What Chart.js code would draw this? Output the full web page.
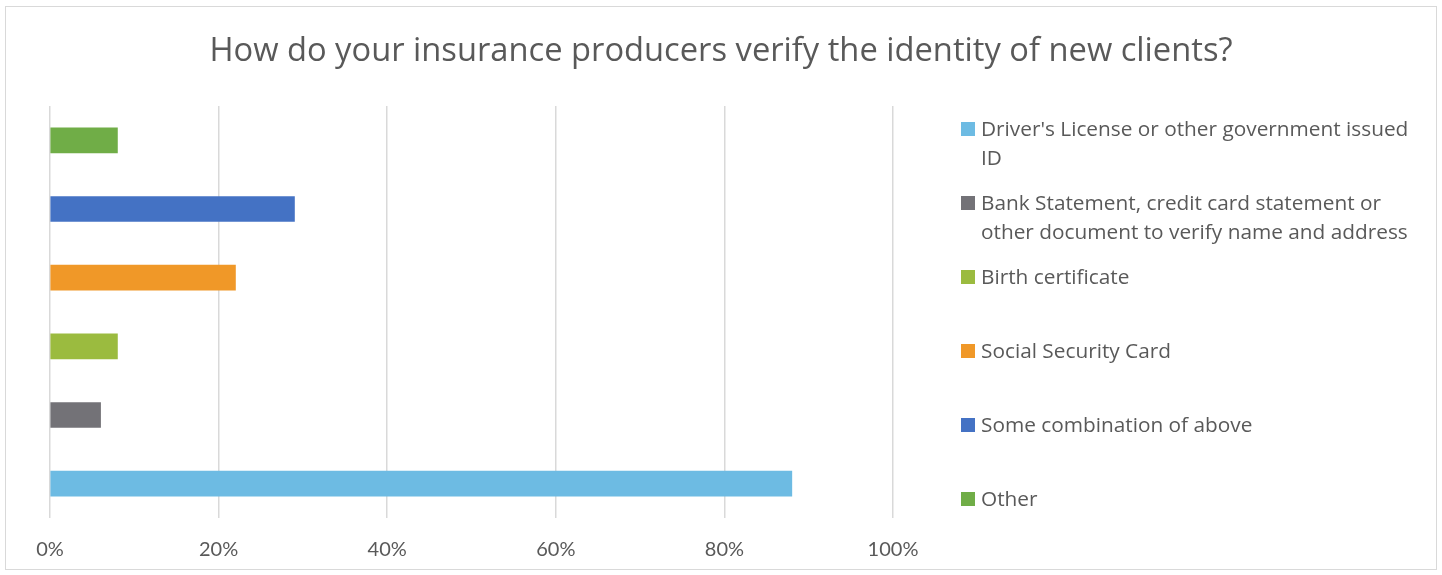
<!DOCTYPE html>
<html>
<head>
<meta charset="utf-8">
<script src="https://cdn.jsdelivr.net/npm/chart.js@4"></script>
<style>
  body { margin: 0; background: #fff; font-family: "Open Sans", Lato, sans-serif; }
  #frame { position: absolute; left: 5px; top: 6px; width: 1430px; height: 562px; border: 1.5px solid #D9D9D9; }
  #wrap { position: absolute; left: 0; top: 0; width: 1442px; height: 575px; }
  #title { position: absolute; left: 0; top: 26px; width: 1442px; text-align: center; font-size: 32.7px; color: #595959; }
  #legend { position: absolute; left: 961px; top: 0; }
  .item { position: absolute; left: 0; width: 475px; font-size: 20.8px; line-height: 29px; color: #595959; padding-left: 20px; white-space: nowrap; }
  .item span.sw { position: absolute; left: 0; top: 8px; width: 14px; height: 14px; }
</style>
</head>
<body>
<div id="frame"></div>
<div id="wrap"><canvas id="chart" width="1442" height="575"></canvas></div>
<div id="title">How do your insurance producers verify the identity of new clients?</div>
<div id="legend"></div>
<script>
// categories listed bottom to top on the chart, top to bottom in the legend
const categories = [
  "Driver's License or other government issued ID",
  'Bank Statement, credit card statement or other document to verify name and address',
  'Birth certificate',
  'Social Security Card',
  'Some combination of above',
  'Other'
];
const legendLines = [
  ["Driver's License or other government issued", 'ID'],
  ['Bank Statement, credit card statement or', 'other document to verify name and address'],
  ['Birth certificate'],
  ['Social Security Card'],
  ['Some combination of above'],
  ['Other']
];
const values = [88, 6, 8, 22, 29, 8];
const colors = ['#6DBBE3', '#737277', '#9BBB3F', '#F09828', '#4472C4', '#70AD47'];
const xTicks = [0, 20, 40, 60, 80, 100];

// html legend
const legendTops = [114, 188, 262, 336, 410, 484];
const legendEl = document.getElementById('legend');
legendEl.innerHTML = categories.map((c, i) => `
  <div class="item" style="top:${legendTops[i]}px">
    <span class="sw" style="background:${colors[i]}"></span>${legendLines[i].join('<br>')}
  </div>`).join('');

const ctx = document.getElementById('chart').getContext('2d');
new Chart(ctx, {
  type: 'bar',
  data: {
    labels: categories,
    datasets: [{
      data: values,
      backgroundColor: colors,
      barThickness: 25
    }]
  },
  options: {
    indexAxis: 'y',
    responsive: false,
    animation: false,
    layout: { padding: { left: 50, right: 549, top: 106, bottom: 0 } },
    plugins: { legend: { display: false }, title: { display: false }, tooltip: { enabled: false } },
    scales: {
      y: { display: false, reverse: true },
      x: {
        min: 0, max: 100,
        afterBuildTicks: s => { s.ticks = xTicks.map(v => ({ value: v })); },
        afterFit: s => { s.height = 57; },
        border: { display: false },
        grid: { color: '#D9D9D9', lineWidth: 1.5, drawTicks: false },
        ticks: {
          padding: 20,
          color: '#595959',
          font: { family: 'Lato', size: 20 },
          callback: v => v + '%'
        }
      }
    }
  }
});
</script>
</body>
</html>
